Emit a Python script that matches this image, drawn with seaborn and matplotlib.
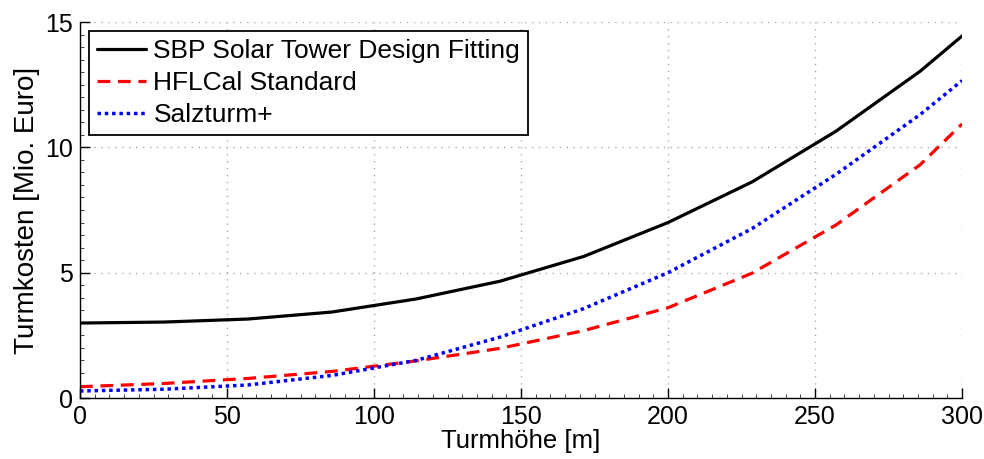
import numpy as np
import pandas as pd
import matplotlib
matplotlib.use("Agg")
import matplotlib.pyplot as plt
from matplotlib.ticker import MultipleLocator
import seaborn as sns

# Data
turmhoehe = [0, 28.6, 57.1, 85.7, 114.3, 142.9, 171.4, 200, 228.6, 257.1, 285.7, 300]
sbp = [2.99, 3.03, 3.15, 3.43, 3.95, 4.66, 5.65, 7.0, 8.62, 10.64, 13.03, 14.44]
hflcal = [0.45, 0.58, 0.78, 1.06, 1.48, 1.98, 2.69, 3.6, 4.98, 6.9, 9.3, 10.93]
salzturm = [0.28, 0.35, 0.52, 0.9, 1.5, 2.43, 3.57, 5.0, 6.76, 8.92, 11.3, 12.66]
series_names = ["SBP Solar Tower Design Fitting", "HFLCal Standard", "Salzturm+"]
x_ticks = [0, 50, 100, 150, 200, 250, 300]
y_ticks = [0, 5, 10, 15]

df = pd.concat([
    pd.DataFrame({"x": turmhoehe, "y": vals, "Serie": name})
    for name, vals in zip(series_names, [sbp, hflcal, salzturm])
])

sns.set_style("ticks")
plt.rcParams["font.family"] = ["Liberation Sans", "DejaVu Sans"]
plt.rcParams["text.color"] = "black"
plt.rcParams["axes.labelcolor"] = "black"
plt.rcParams["xtick.color"] = "black"
plt.rcParams["ytick.color"] = "black"

fig = plt.figure(figsize=(9.84, 4.59), dpi=100)
ax = fig.add_axes([80/984, (459-398)/459, (962-80)/984, (398-22)/459])

styles = {
    series_names[0]: dict(color="black", linestyle="-", linewidth=2.3),
    series_names[1]: dict(color="#ff0000", linestyle=(0, (4.0, 2.4)), linewidth=2.3),
    series_names[2]: dict(color="#0000ff", linestyle=(0, (1.0, 1.1)), linewidth=2.5),
}
for name in series_names:
    sub = df[df["Serie"] == name]
    sns.lineplot(data=sub, x="x", y="y", ax=ax, label=name, **styles[name])

ax.set_xlim(0, 300)
ax.set_ylim(0, 15)
ax.set_xticks(x_ticks)
ax.set_yticks(y_ticks)
ax.xaxis.set_minor_locator(MultipleLocator(5))
ax.yaxis.set_minor_locator(MultipleLocator(0.5))
ax.tick_params(which="major", direction="in", length=7, width=1, labelsize=18, pad=5,
               colors="black")
ax.tick_params(which="minor", direction="in", length=3, width=0.7, colors="#444444")
ax.tick_params(top=False, right=False, which="both")
ax.grid(True, which="major", linestyle=(0, (1, 4)), color="#aaaaaa", linewidth=1.0)
for s in ["top", "right"]:
    ax.spines[s].set_visible(False)
for s in ["left", "bottom"]:
    ax.spines[s].set_linewidth(1.0)
    ax.spines[s].set_color("black")

ax.set_xlabel("Turmhöhe [m]", fontsize=18.5, labelpad=0, color="black")
ax.set_ylabel("Turmkosten [Mio. Euro]", fontsize=20, labelpad=4, color="black")

leg = ax.legend(loc="upper left", fontsize=19, frameon=True, fancybox=False,
                edgecolor="black", framealpha=1, borderpad=0.3, labelspacing=0.3,
                handlelength=1.85, handletextpad=0.28, borderaxespad=0.35)
leg.get_frame().set_linewidth(1.3)
for t in leg.get_texts():
    t.set_color("black")

fig.savefig("out.png", dpi=100)
